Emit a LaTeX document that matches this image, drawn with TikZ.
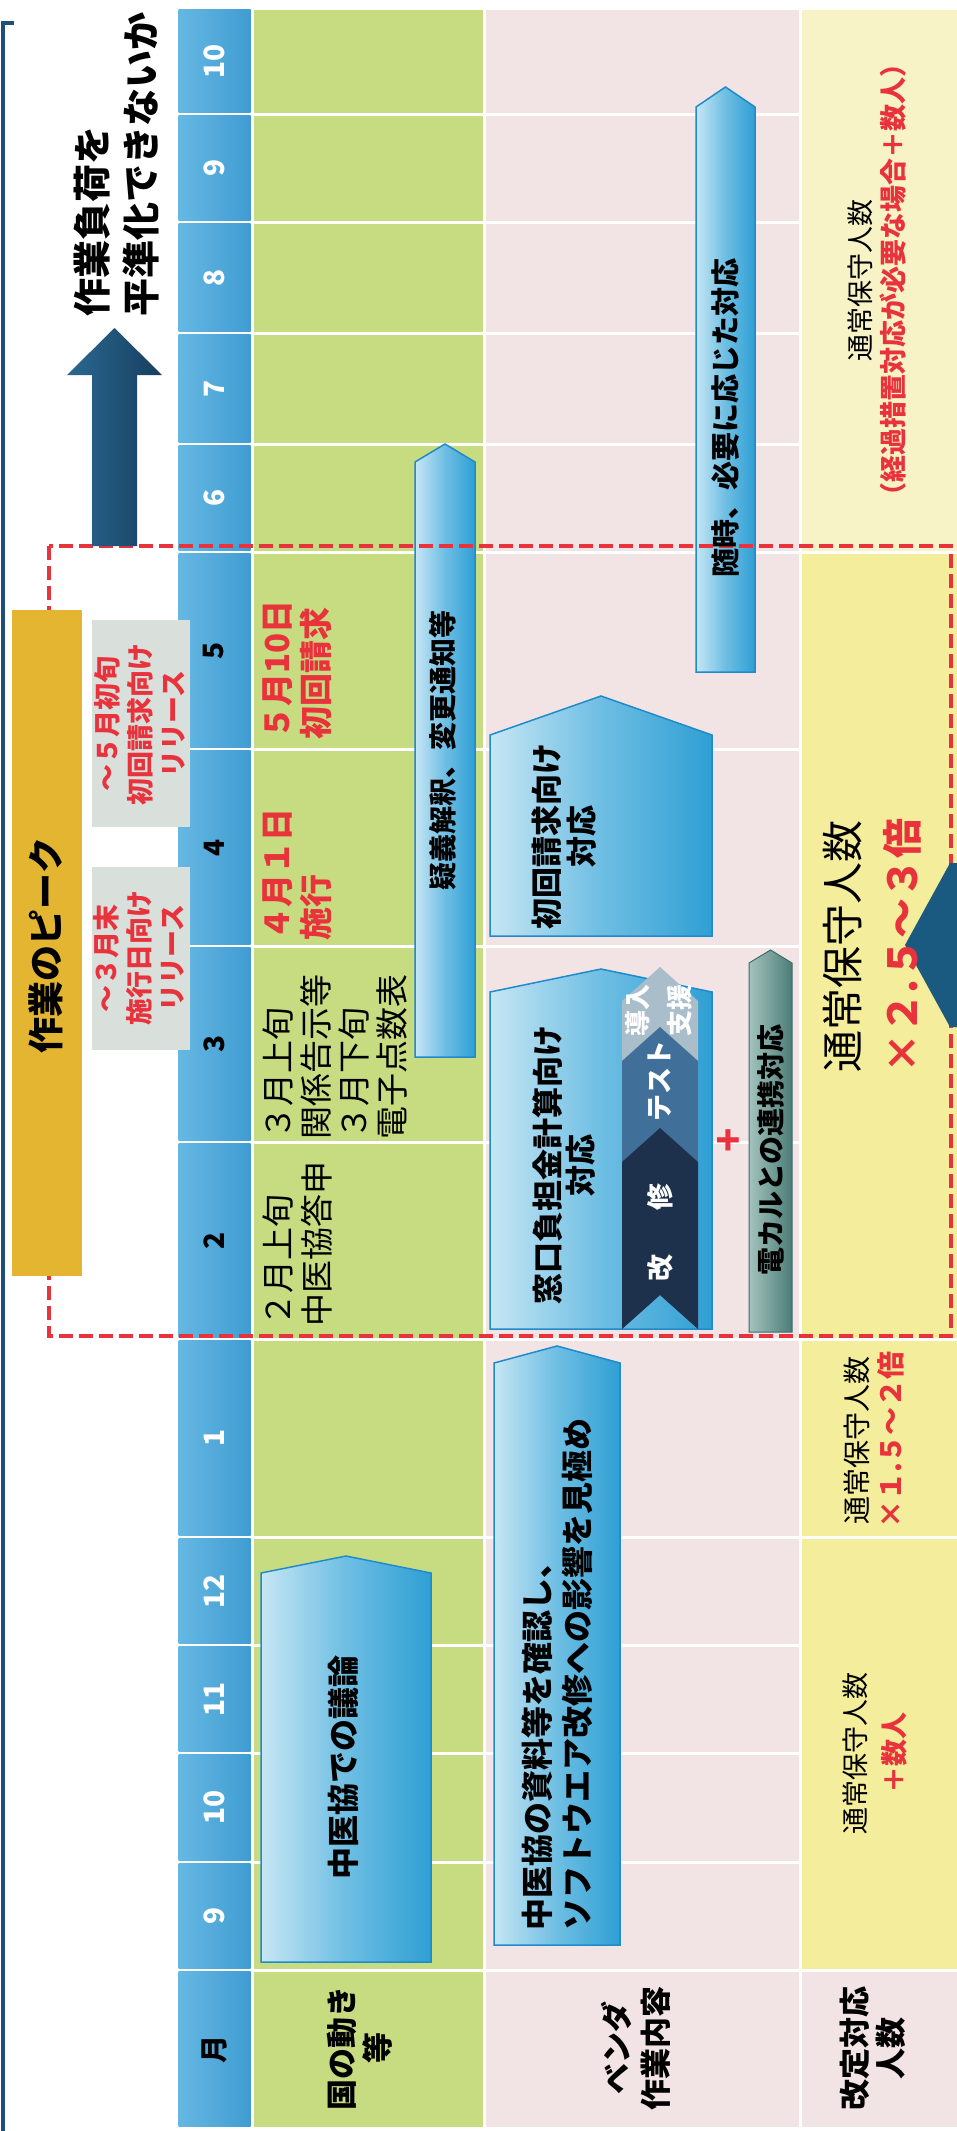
\documentclass[tikz,border=0pt]{standalone}
\usepackage{fontspec}
\setmainfont{Noto Sans CJK JP}
\definecolor{hdrL}{HTML}{66B8E2}
\definecolor{hdrR}{HTML}{3F9CD2}
\definecolor{grn}{HTML}{C7DB80}
\definecolor{pnk}{HTML}{F2E3E5}
\definecolor{ylw}{HTML}{F3ED9C}
\definecolor{ylwpale}{HTML}{F7F3C6}
\definecolor{jred}{HTML}{E8323C}
\definecolor{peak}{HTML}{E4B530}
\definecolor{gbox}{HTML}{D9E0DC}
\definecolor{bbL}{HTML}{C6E6F4}
\definecolor{bbM}{HTML}{6EBEE3}
\definecolor{bbR}{HTML}{2F9FD4}
\definecolor{bbD}{HTML}{1F8BCB}
\definecolor{navyL}{HTML}{2B6891}
\definecolor{navyR}{HTML}{163E5F}
\definecolor{tealL}{HTML}{A3C3BD}
\definecolor{tealR}{HTML}{4C7C76}
\definecolor{tealD}{HTML}{3F6B66}
\definecolor{chvA}{HTML}{A9BDCB}
\definecolor{chvB}{HTML}{40709A}
\definecolor{chvC}{HTML}{1D304C}
\definecolor{framec}{HTML}{1F4E79}
\definecolor{bigarr}{HTML}{1B5A80}
\newcommand\fsz[2]{\fontsize{#1}{#2}\selectfont}
\newcommand\uparr[6]{\path[#6] (#1,#3) -- (#1,#4) -- ({(#1+#2)/2},#5) -- (#2,#4) -- (#2,#3) -- cycle;}
\begin{document}
\begin{tikzpicture}[x=1pt,y=-1pt,
  vt/.style={rotate=90,inner sep=0pt,align=center},
  bluebox/.style={draw=bbD,line width=1.5pt,left color=bbL,right color=bbR,middle color=bbM},
  tealbox/.style={draw=tealD,line width=1pt,left color=tealL,right color=tealR},
  redtxt/.style={text=jred,font=\bfseries}]
\useasboundingbox (0,0) rectangle (957,2131);
\fill[white] (0,0) rectangle (957,2131);
% table cells
\foreach \a/\b/\m/\c [count=\i] in {8/114/10/white,114/222/9/white,222/333/8/white,333/444/7/white,444/552/6/white,552/749/5/black,749/946/4/black,946/1142/3/black,1142/1339/2/black,1339/1537/1/white,1537/1645/12/white,1645/1753/11/white,1753/1862/10/white,1862/1970/9/white,1970/2128/月/black}{
  \shade[left color=hdrL,right color=hdrR] (178.5,{\a+1.5}) rectangle (250.5,{\b-1.5});
  \fill[grn] (253.5,{\a+1.5}) rectangle (482.5,{\b-1.5});
  \fill[pnk] (485.5,{\a+1.5}) rectangle (798.5,{\b-1.5});
  \node[vt,text=\c,font=\fsz{28}{30}\bfseries] (m\i) at (214,{(\a+\b)/2}) {\m};
}
\fill[ylwpale] (801.5,9.5) rectangle (960,550.5);
\fill[ylw] (801.5,553.5) rectangle (960,1337.5);
\fill[ylw] (801.5,1340.5) rectangle (960,1535.5);
\fill[ylw] (801.5,1538.5) rectangle (960,1968.5);
\fill[pnk] (801.5,1971.5) rectangle (960,2126.5);
% frame
\draw[framec,line width=4pt] (3,2135) -- (3,23) -- (14,23);
% arrows
\uparr{261}{431}{1962}{1573}{1556}{bluebox}
\uparr{415}{475}{1057}{462}{444}{bluebox}
\uparr{494}{620}{1945}{1363}{1346}{bluebox}
\uparr{490}{712}{1329}{992}{969}{bluebox}
\uparr{490}{712}{936}{735}{696}{bluebox}
\uparr{696}{755}{672}{107}{87}{bluebox}
\uparr{749}{792}{1332}{963}{950}{tealbox}
% chevrons
\fill[chvA] (622,1001) -- (660,967) -- (698,1001) -- (698,1329) -- (660,1295) -- (622,1329) -- cycle;
\fill[chvB] (622,1061) -- (660,1027) -- (698,1061) -- (698,1329) -- (660,1295) -- (622,1329) -- cycle;
\fill[chvC] (622,1162) -- (660,1128) -- (698,1162) -- (698,1329) -- (660,1295) -- (622,1329) -- cycle;
% dashed peak frame
\draw[jred,line width=3.5pt,dash pattern=on 14pt off 6pt] (49,546) rectangle (951,1336);
% peak box and release boxes
\fill[peak] (12,610) rectangle (82,1276);
\fill[gbox] (92,620) rectangle (190,827);
\fill[gbox] (92,867) rectangle (190,1050);
% big up arrow
\shade[left color=navyL,right color=navyR] (92,546) -- (92,375) -- (67,375) -- (114.5,328) -- (162,375) -- (137,375) -- (137,546) -- cycle;
% big left arrow at right
\fill[bigarr] (905,945) -- (950,863) -- (962,863) -- (962,1027) -- (950,1027) -- cycle;
% texts
\node[vt,align=left,anchor=west,font=\fsz{38}{49}\bfseries] (t1) at (117,317) {作業負荷を\\平準化できないか};
\node[vt,font=\fsz{36}{40}\bfseries] (t2) at (46,945) {作業のピーク};
\node[vt,redtxt,font=\fsz{27}{33}\bfseries] (t3) at (140,724) {～５月初旬\\初回請求向け\\リリース};
\node[vt,redtxt,font=\fsz{27}{33}\bfseries] (t4) at (139,958) {～３月末\\施行日向け\\リリース};
\node[vt,redtxt,align=left,anchor=west,font=\fsz{33}{39}\bfseries] (g1) at (297,740) {５月10日\\初回請求};
\node[vt,redtxt,align=left,anchor=west,font=\fsz{33}{39}\bfseries] (g2) at (297,941) {４月１日\\施行};
\node[vt,align=left,anchor=west,font=\fsz{33}{37.7}] (g3) at (335,1140) {３月上旬\\関係告示等\\３月下旬\\電子点数表};
\node[vt,align=left,anchor=west,font=\fsz{33}{39}] (g4) at (297,1327) {２月上旬\\中医協答申};
\node[vt,font=\fsz{32}{36}\bfseries] (g5) at (343,1767) {中医協での議論};
\node[vt,font=\fsz{28}{32}\bfseries] (g6) at (443,750) {疑義解釈、変更通知等};
\node[vt,align=left,anchor=west,font=\fsz{32}{40}\bfseries] (v1) at (557,1931) {中医協の資料等を確認し、\\ソフトウエア改修への影響を見極め};
\node[vt,font=\fsz{31}{33}\bfseries] (v2) at (564,1165) {窓口負担金計算向け\\対応};
\node[vt,font=\fsz{31}{35}\bfseries] (v3) at (564,836) {初回請求向け\\対応};
\node[vt,text=white,font=\fsz{26}{42}\bfseries] (c1) at (659,1010) {導入\\支援};
\node[vt,text=white,font=\fsz{27}{30}\bfseries] (c2) at (660,1081) {テスト};
\node[vt,text=white,font=\fsz{27}{30}\bfseries] (c3) at (660,1232) {改\hspace{44pt}修};
\node[vt,text=jred,font=\fsz{40}{40}\bfseries] (plus) at (730,1140) {+};
\node[vt,font=\fsz{28}{32}\bfseries] (v4) at (771,1150) {電カルとの連携対応};
\node[vt,font=\fsz{29}{32}\bfseries] (v5) at (725,418) {随時、必要に応じた対応};
\node[vt,font=\fsz{27}{33}] (s1) at (877,280) {通常保守人数\\{\color{jred}\bfseries （経過措置対応が必要な場合＋数人）}};
\node[vt,font=\fsz{42}{59}] (s2) at (872,946) {通常保守人数\\{\color{jred}\bfseries\fsz{40}{59}×２.５～３倍}};
\node[vt,font=\fsz{28}{34}] (s3) at (874,1440) {通常保守人数\\{\color{jred}\bfseries ×１.５～２倍}};
\node[vt,font=\fsz{27}{39}] (s4) at (875,1753) {通常保守人数\\{\color{jred}\bfseries ＋数人}};
\node[vt,font=\fsz{31}{36}\bfseries] (l1) at (360,2048) {国の動き\\等};
\node[vt,font=\fsz{31}{39}\bfseries] (l2) at (636,2048) {ベンダ\\作業内容};
\node[vt,font=\fsz{31}{36}\bfseries] (l3) at (873,2048) {改定対応\\人数};
\end{tikzpicture}
\end{document}
